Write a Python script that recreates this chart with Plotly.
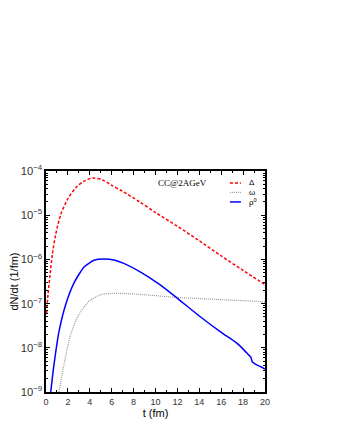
import numpy as np
import plotly.graph_objects as go

# Delta (red dashed), log10 of dN/dt
t_delta = [0.06, 0.18, 0.37, 0.58, 0.88, 1.34, 1.95, 2.71, 3.47, 4.23, 5.14, 5.9, 7.0, 8.5, 10, 12, 14, 16, 18, 20]
log_delta = [-7.21, -6.80, -6.35, -5.89, -5.44, -4.99, -4.65, -4.38, -4.23, -4.16, -4.20, -4.31, -4.46, -4.69,
             -4.94, -5.25, -5.58, -5.92, -6.25, -6.57]

# omega (grey dotted)
t_omega = [1.19, 1.64, 2.25, 3.0, 3.93, 5.0, 6.2, 7.1, 9.5, 11.9, 16.0, 20]
log_omega = [-9.0, -8.38, -7.70, -7.25, -6.95, -6.80, -6.77, -6.77, -6.81, -6.86, -6.91, -6.96]

# rho0 (blue solid)
t_rho = [0.43, 0.73, 1.19, 1.8, 2.56, 3.47, 4.38, 5.3, 6.3, 7.1, 8.6, 10.4, 12.0, 14.0, 16.0, 17.4, 18.0,
         18.5, 18.7, 18.85, 19.2, 19.7, 20]
log_rho = [-9.0, -8.38, -7.63, -7.02, -6.53, -6.17, -6.02, -5.99, -6.02, -6.09, -6.28, -6.57, -6.88, -7.28, -7.65,
           -7.89, -8.03, -8.16, -8.21, -8.32, -8.38, -8.44, -8.48]

names = ["Δ", "ω", "ρ<sup>0</sup>"]
colors = ["#ff0000", "#999999", "#0000ff"]
dashes = ["3px,2px", "1px,1px", "solid"]
widths = [1.5, 1.2, 1.5]
smooth = [0.8, 0.8, 0.5]

font = "Century Gothic, Liberation Sans, Arial, sans-serif"

fig = go.Figure()
for (tx, ly), name, c, d, w, s in zip([(t_delta, log_delta), (t_omega, log_omega), (t_rho, log_rho)],
                                      names, colors, dashes, widths, smooth):
    fig.add_trace(go.Scatter(x=tx, y=10 ** np.array(ly), mode="lines", name=name, showlegend=False,
                             line=dict(color=c, dash=d, width=w, shape="spline", smoothing=s)))

# legend drawn by hand so the rows sit close together
for i, (name, c, d, w) in enumerate(zip(names, colors, dashes, widths)):
    yy = 0.946 - i * 0.043
    fig.add_shape(type="line", xref="paper", yref="paper", x0=0.84, x1=0.89, y0=yy, y1=yy,
                  line=dict(color=c, dash=d, width=w))
    fig.add_annotation(x=0.92, y=yy, xref="paper", yref="paper", text=name, showarrow=False,
                       xanchor="left", yanchor="middle", font=dict(size=8, family=font, color="black"))

axis_common = dict(showline=True, linecolor="black", linewidth=2, mirror="ticks",
                   ticks="inside", tickcolor="black", ticklen=4, showgrid=False, zeroline=False,
                   automargin=False,
                   tickfont=dict(size=9, color="#333333", family=font))

fig.update_xaxes(range=[0, 20], dtick=2, minor=dict(ticks="inside", dtick=1, ticklen=2, tickcolor="black"),
                 title=dict(text="t (fm)", font=dict(size=11, family=font, color="black"), standoff=0),
                 **axis_common)
fig.update_yaxes(type="log", range=[-9, -4], dtick=1, exponentformat="power",
                 minor=dict(ticks="inside", ticklen=2, tickcolor="black"),
                 title=dict(text="dN/dt (1/fm)", font=dict(size=11, family=font, color="black"), standoff=4),
                 **axis_common)

fig.add_annotation(x=0.5, y=0.945, xref="paper", yref="paper", text="CC@2AGeV", showarrow=False,
                   xanchor="left", yanchor="middle",
                   font=dict(family="Liberation Serif, Times New Roman, serif", size=9, color="black"))

# page body adds 8px, so margins are shifted by that amount
fig.update_layout(
    width=337, height=436,
    margin=dict(l=38, r=80, t=163, b=52),
    plot_bgcolor="white", paper_bgcolor="white",
    showlegend=False,
)

fig.write_html("out.html")
